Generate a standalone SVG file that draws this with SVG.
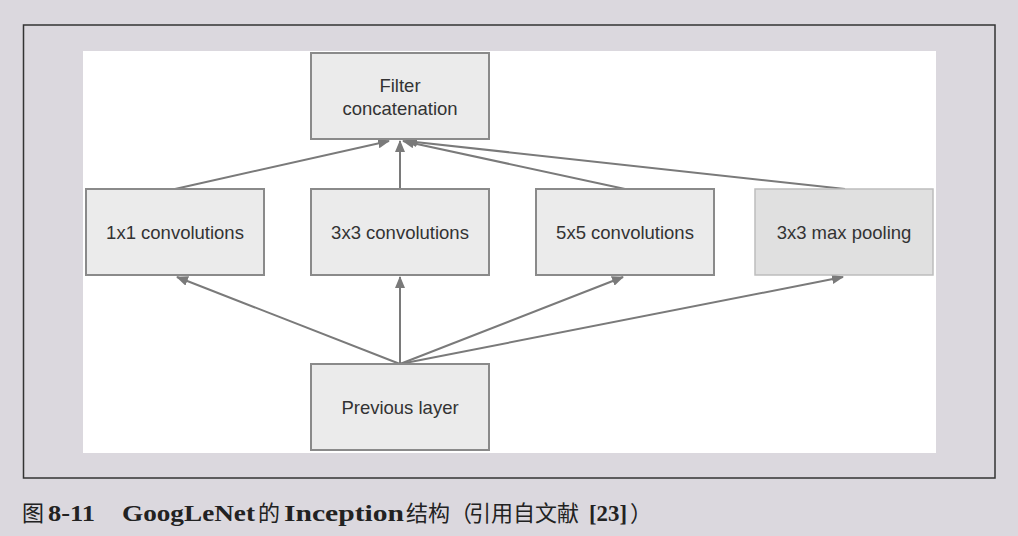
<svg xmlns="http://www.w3.org/2000/svg" width="1018" height="536" viewBox="0 0 1018 536">
<defs>
<marker id="ah" viewBox="0 0 12 10" refX="11" refY="5" markerWidth="12" markerHeight="10" markerUnits="userSpaceOnUse" orient="auto"><path d="M0,0 L12,5 L0,10 z" fill="#7a7a7a"/></marker>
<style>
.box{fill:#ebebeb;stroke:#8a8a8a;stroke-width:2}
.box2{fill:#e0e0e0;stroke:#bdbdbd;stroke-width:1.5}
.lbl{font-family:"Liberation Sans",Arial,sans-serif;font-size:18.5px;fill:#333;text-anchor:middle}
.con{stroke:#7a7a7a;stroke-width:2;fill:none;marker-end:url(#ah)}
.cap{font-family:"Liberation Serif","Noto Sans CJK SC",serif;font-size:23px;fill:#222}
.cj{font-family:"Noto Sans CJK SC",sans-serif;font-size:22px}
</style>
</defs>
<rect width="1018" height="536" fill="#dbd8de"/>
<rect x="23.5" y="25" width="971.5" height="453" fill="#dbd8de" stroke="#333" stroke-width="1.5"/>
<rect x="83" y="51" width="853" height="402" fill="#ffffff"/>
<g id="connectors">
<line class="con" x1="175" y1="189" x2="389" y2="141"/>
<line class="con" x1="400" y1="189" x2="400" y2="141"/>
<line class="con" x1="625" y1="189" x2="403" y2="141"/>
<line class="con" x1="845" y1="189" x2="406" y2="141"/>
<line class="con" x1="400" y1="364" x2="177" y2="277"/>
<line class="con" x1="400" y1="364" x2="400" y2="277"/>
<line class="con" x1="400" y1="364" x2="623" y2="277"/>
<line class="con" x1="400" y1="364" x2="843" y2="277"/>
</g>
<g id="concat"><rect class="box" x="311" y="53" width="178" height="86"/><text class="lbl" x="400" y="92">Filter</text><text class="lbl" x="400" y="115">concatenation</text></g>
<g id="conv1"><rect class="box" x="86" y="189" width="178" height="86"/><text class="lbl" x="175" y="239">1x1 convolutions</text></g>
<g id="conv3"><rect class="box" x="311" y="189" width="178" height="86"/><text class="lbl" x="400" y="239">3x3 convolutions</text></g>
<g id="conv5"><rect class="box" x="536" y="189" width="178" height="86"/><text class="lbl" x="625" y="239">5x5 convolutions</text></g>
<g id="pool"><rect class="box2" x="755" y="189" width="178" height="86"/><text class="lbl" x="844" y="239">3x3 max pooling</text></g>
<g id="prev"><rect class="box" x="311" y="364" width="178" height="86"/><text class="lbl" x="400" y="414">Previous layer</text></g>
<text class="cap" y="521"><tspan class="cj" x="22">图</tspan><tspan x="48" font-weight="bold" textLength="47" lengthAdjust="spacingAndGlyphs">8-11</tspan><tspan x="122" font-weight="bold" textLength="133" lengthAdjust="spacingAndGlyphs">GoogLeNet</tspan><tspan class="cj" x="258">的</tspan><tspan x="284" font-weight="bold" textLength="120" lengthAdjust="spacingAndGlyphs">Inception</tspan><tspan class="cj" x="406">结构（</tspan><tspan class="cj" x="469">引用自文献</tspan><tspan x="589" font-weight="bold" textLength="38" lengthAdjust="spacingAndGlyphs">[23]</tspan><tspan class="cj" x="630">）</tspan></text>
</svg>
